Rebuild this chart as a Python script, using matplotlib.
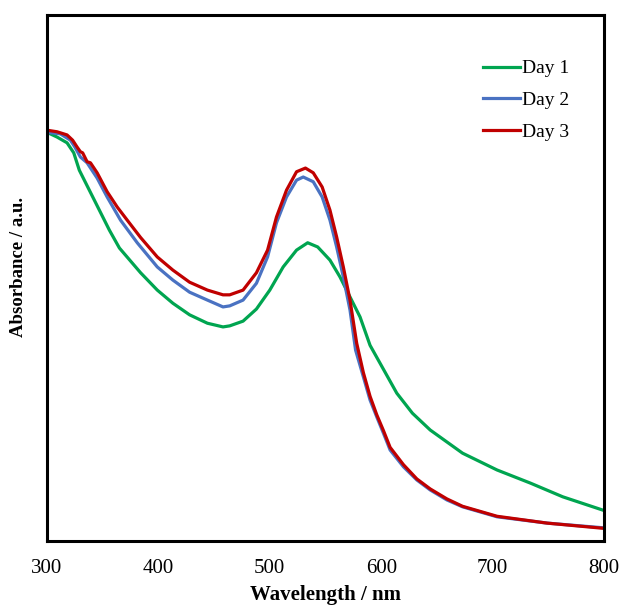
import matplotlib
matplotlib.use("Agg")
import matplotlib.pyplot as plt

# wavelength (nm) and absorbance (a.u.)
wl_day1 = [300, 309, 318, 324, 329, 338, 347, 356, 365, 384, 399, 413, 428, 444, 458,
           464, 476, 488, 500, 512, 524, 534, 543, 554, 563, 572, 581, 590, 614, 628,
           644, 673, 704, 734, 763, 800]
abs_day1 = [0.777, 0.768, 0.757, 0.738, 0.705, 0.667, 0.629, 0.591, 0.557, 0.510, 0.477,
            0.452, 0.430, 0.414, 0.407, 0.409, 0.418, 0.441, 0.477, 0.521, 0.553, 0.567,
            0.559, 0.534, 0.502, 0.464, 0.426, 0.372, 0.281, 0.243, 0.211, 0.167, 0.135,
            0.110, 0.084, 0.058]

wl_day2 = [300, 312, 321, 325, 330, 336, 345, 354, 366, 381, 399, 413, 428, 444, 458,
           464, 476, 488, 498, 506, 515, 524, 530, 539, 547, 554, 560, 566, 572, 577,
           584, 590, 596, 602, 608, 620, 632, 644, 659, 673, 704, 749, 800]
abs_day2 = [0.777, 0.774, 0.762, 0.749, 0.730, 0.719, 0.690, 0.654, 0.610, 0.567, 0.521,
            0.496, 0.473, 0.458, 0.445, 0.447, 0.458, 0.490, 0.540, 0.605, 0.654, 0.686,
            0.692, 0.683, 0.654, 0.610, 0.559, 0.502, 0.439, 0.363, 0.312, 0.268, 0.236,
            0.205, 0.173, 0.141, 0.116, 0.097, 0.078, 0.065, 0.046, 0.034, 0.025]

wl_day3 = [300, 309, 318, 323, 327, 330, 332, 336, 339, 345, 354, 363, 372, 384, 399,
           413, 428, 444, 458, 464, 476, 488, 498, 506, 515, 524, 532, 539, 547, 554,
           560, 566, 572, 578, 584, 590, 596, 602, 608, 620, 632, 644, 659, 673, 704,
           749, 800]
abs_day3 = [0.781, 0.778, 0.772, 0.762, 0.749, 0.740, 0.738, 0.721, 0.719, 0.700, 0.664,
            0.635, 0.610, 0.577, 0.540, 0.515, 0.492, 0.477, 0.468, 0.468, 0.477, 0.510,
            0.553, 0.616, 0.667, 0.702, 0.709, 0.700, 0.673, 0.629, 0.578, 0.521, 0.458,
            0.376, 0.320, 0.275, 0.240, 0.210, 0.178, 0.145, 0.118, 0.099, 0.080, 0.066,
            0.047, 0.034, 0.024]

labels = ["Day 1", "Day 2", "Day 3"]
colors = ["#00A550", "#4A72C2", "#C00000"]
xticks = [300, 400, 500, 600, 700, 800]

plt.rcParams['font.family'] = ['Liberation Serif', 'DejaVu Serif']

fig = plt.figure(figsize=(6.22, 6.05), dpi=100)
ax = fig.add_axes([47 / 622, 1 - 541 / 605, 557 / 622, 526 / 605])

for wl, a, lab, c in zip([wl_day1, wl_day2, wl_day3], [abs_day1, abs_day2, abs_day3],
                         labels, colors):
    ax.plot(wl, a, color=c, linewidth=2.3, label=lab, solid_joinstyle='round')

ax.set_xlim(300, 800)
ax.set_ylim(0, 1.0)
ax.set_xticks(xticks)
ax.set_xticklabels([str(t) for t in xticks], fontsize=15)
ax.set_yticks([])
ax.tick_params(axis='x', length=0, pad=13)

for sp in ax.spines.values():
    sp.set_linewidth(2.2)
    sp.set_color('black')

ax.set_xlabel('Wavelength / nm', fontsize=15, fontweight='bold', labelpad=5)
ax.set_ylabel('Absorbance / a.u.', fontsize=13.5, fontweight='bold')
ax.yaxis.set_label_coords(-20 / 557, (541 - 267) / 526)

ax.legend(loc='upper left', bbox_to_anchor=(473 / 622, 1 - 50 / 605),
          bbox_transform=fig.transFigure, frameon=False, fontsize=14, borderpad=0,
          handlelength=1.9, handletextpad=0.1, labelspacing=0.72)

fig.savefig('out.png', dpi=100)
